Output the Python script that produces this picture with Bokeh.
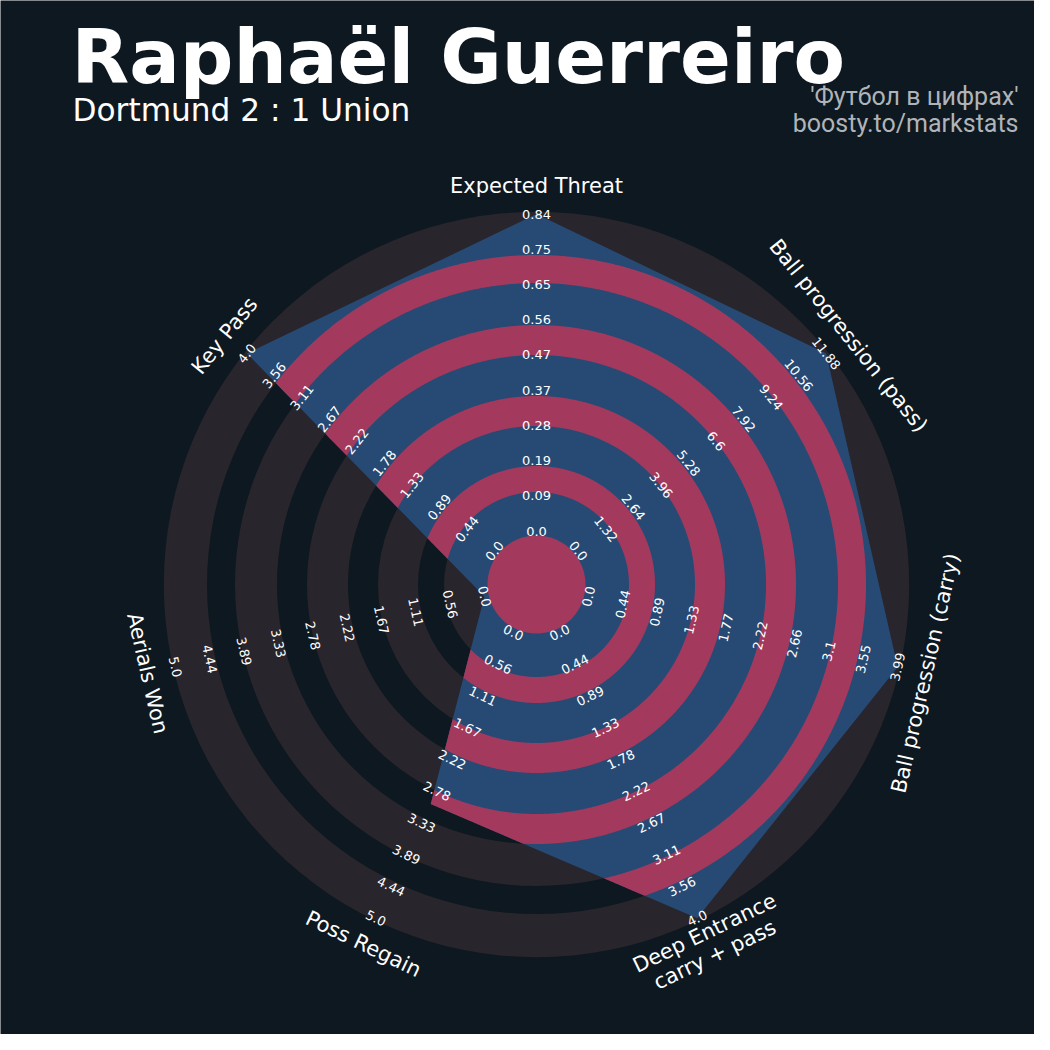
import numpy as np
from bokeh.plotting import figure
from bokeh.models import Range1d
from bokeh.embed import file_html
from bokeh.resources import INLINE
from bokeh.core.properties import value

# ---------------- data ----------------
params = ["Expected Threat", "Ball progression (pass)", "Ball progression (carry)",
          "Deep Entrance\ncarry + pass", "Poss Regain", "Aerials Won", "Key Pass"]
values = [0.84, 11.88, 3.99, 4.0, 3.0, 0.0, 4.0]
low = [0.0, 0.0, 0.0, 0.0, 0.0, 0.0, 0.0]
high = [0.84, 11.88, 3.99, 4.0, 5.0, 5.0, 4.0]
title = "Raphaël Guerreiro"
subtitle = "Dortmund 2 : 1 Union"
credit = ["'Футбол в цифрах'", "boosty.to/markstats"]

# ---------------- style / layout ----------------
BG = "#0e1820"
GREY = "#28252c"
BLUE = "#274a75"
PINK = "#a33a5e"
W = 1034
CX, CY = 536.0, W - 584.0
R_CENTER = 49.0
BOUNDS = [49.0, 92.5, 118.5, 158.5, 188.5, 229.5, 259.5, 301.5, 329.5, 372.7]
R_LAB0, R_LAB1 = 53.5, 370.5
R_PARAM = 399.0
N = len(params)
step = 360.0 / N
theta_deg = np.array([90.0 - k * step for k in range(N)])
theta = np.deg2rad(theta_deg)


def rscale(v, lo, hi):
    return R_LAB0 + (v - lo) / (hi - lo) * (R_LAB1 - R_LAB0)


rv = np.array([rscale(values[k], low[k], high[k]) for k in range(N)])
PX = rv * np.cos(theta)
PY = rv * np.sin(theta)

p = figure(width=W, height=W, x_range=Range1d(0, W), y_range=Range1d(0, W),
           x_axis_type=None, y_axis_type=None, toolbar_location=None,
           output_backend="svg", min_border=0)
p.background_fill_color = BG
p.border_fill_color = BG
p.outline_line_color = None
p.grid.visible = False

# outer (grey) rings
for i in range(0, len(BOUNDS) - 1, 2):
    p.annulus(x=[CX], y=[CY], inner_radius=BOUNDS[i], outer_radius=BOUNDS[i + 1],
              fill_color=GREY, line_color=None)

# radar polygon
p.patch(CX + PX, CY + PY, fill_color=BLUE, line_color=None)

# radial function of polygon
TH, RE = [], []
for k in range(N):
    A = np.array([PX[k], PY[k]])
    B = np.array([PX[(k + 1) % N], PY[(k + 1) % N]])
    D = B - A
    for t in np.linspace(0, 1, 241)[:-1]:
        th = theta[k] - np.deg2rad(step) * t
        d = np.array([np.cos(th), np.sin(th)])
        cAD = A[0] * D[1] - A[1] * D[0]
        cdD = d[0] * D[1] - d[1] * D[0]
        TH.append(th)
        RE.append(cAD / cdD)
TH = np.array(TH)
RE = np.array(RE)
n = len(TH)

pxs, pys = [], []
for i in range(1, len(BOUNDS) - 1, 2):
    r1, r2 = BOUNDS[i], BOUNDS[i + 1]
    mask = RE > r1
    if mask.all():
        ro = np.minimum(r2, RE)
        ox = list(CX + ro * np.cos(TH))
        oy = list(CY + ro * np.sin(TH))
        hx = list(CX + r1 * np.cos(TH))
        hy = list(CY + r1 * np.sin(TH))
        pxs.append([[ox, hx]])
        pys.append([[oy, hy]])
        continue
    if not mask.any():
        continue
    s0 = int(np.argmin(mask))
    idx = np.roll(np.arange(n), -s0)
    m = mask[idx]
    j = 0
    while j < n:
        if not m[j]:
            j += 1
            continue
        j0 = j
        while j < n and m[j]:
            j += 1
        j1 = j - 1
        ii = idx[j0:j1 + 1]
        ib, ia = idx[j0 - 1], idx[(j1 + 1) % n]

        def cross(a, b):
            f = (r1 - RE[a]) / (RE[b] - RE[a])
            dl = (TH[b] - TH[a] + np.pi) % (2 * np.pi) - np.pi
            return TH[a] + f * dl

        ts = cross(ib, ii[0])
        te = cross(ii[-1], ia)
        th_o = np.concatenate([[ts], TH[ii], [te]])
        r_o = np.concatenate([[r1], np.minimum(r2, RE[ii]), [r1]])
        th_i = TH[ii][::-1]
        xs = np.concatenate([CX + r_o * np.cos(th_o), CX + r1 * np.cos(th_i)])
        ys = np.concatenate([CY + r_o * np.sin(th_o), CY + r1 * np.sin(th_i)])
        pxs.append([[list(xs)]])
        pys.append([[list(ys)]])

p.multi_polygons(xs=pxs, ys=pys, fill_color=PINK, line_color=None)

# center disc
p.circle(x=[CX], y=[CY], radius=R_CENTER, fill_color=PINK, line_color=None)


def rot_of(td):
    td = (td + 180.0) % 360.0 - 180.0
    return np.deg2rad(td - 90.0) if td > 0 else np.deg2rad(td + 90.0), td


# range labels
lx, ly, lt, la = [], [], [], []
rl = np.linspace(R_LAB0, R_LAB1, 10)
for k in range(N):
    rot, _ = rot_of(theta_deg[k])
    vals = np.linspace(low[k], high[k], 10)
    for r, v in zip(rl, vals):
        lx.append(CX + r * np.cos(theta[k]))
        ly.append(CY + r * np.sin(theta[k]))
        lt.append(str(round(float(v), 2)))
        la.append(rot)
p.text(x=lx, y=ly, text=lt, angle=la, text_color="white", text_font=value("DejaVu Sans"),
       text_font_size="13px", text_align="center", text_baseline="middle")

# parameter labels
qx, qy, qt, qa = [], [], [], []
for k in range(N):
    rot, td = rot_of(theta_deg[k])
    lines = params[k].split("\n")
    nl = len(lines)
    for j, line in enumerate(lines):
        off = (j - (nl - 1) / 2.0) * 24.0
        r = R_PARAM + (off if td < 0 else -off)
        qx.append(CX + r * np.cos(theta[k]))
        qy.append(CY + r * np.sin(theta[k]))
        qt.append(line)
        qa.append(rot)
p.text(x=qx, y=qy, text=qt, angle=qa, text_color="white", text_font=value("DejaVu Sans"),
       text_font_size="21px", text_align="center", text_baseline="middle")

# titles
p.text(x=[71], y=[W - 56], text=[title], text_color="white", text_font=value("DejaVu Sans"),
       text_font_style="bold", text_font_size="75px", text_align="left",
       text_baseline="alphabetic")
p.text(x=[72], y=[W - 109], text=[subtitle], text_color="white",
       text_font=value("DejaVu Sans"), text_font_size="31.2px", text_align="left",
       text_baseline="alphabetic")
p.text(x=[1018, 1018], y=[W - 96, W - 123], text=credit, text_color="#b0b4b8",
       text_font=value("Roboto"), text_font_size="25px", text_align="right",
       text_baseline="alphabetic")

open("out.html", "w").write(file_html(p, INLINE))
